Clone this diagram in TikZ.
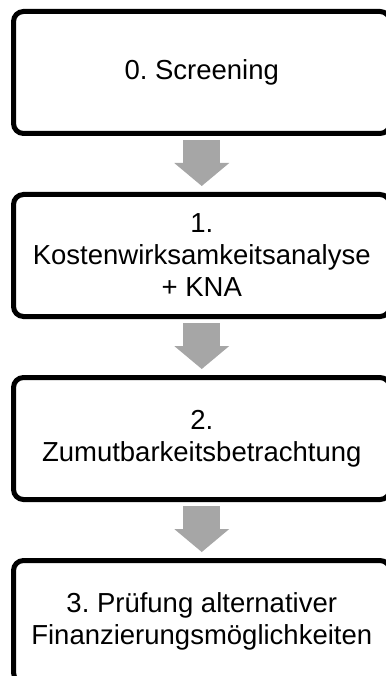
\documentclass[tikz,border=0pt]{standalone}
\usepackage{fontspec}
\setmainfont{Liberation Sans}
\usepackage{tikz}
\usetikzlibrary{positioning}
\usetikzlibrary{arrows.meta}
\definecolor{arrowgray}{RGB}{166,166,166}
\tikzset{stage/.style={draw, rounded corners=10pt, line width=5pt, minimum width=376.5pt, minimum height=122pt, align=center, font=\fontsize{27.5}{32}\selectfont\frenchspacing}}
\tikzset{flow/.style={draw=arrowgray, line width=37pt, -{Triangle[width=55pt,length=23pt,line width=0pt]}, shorten <=4pt, shorten >=6pt}}

\begin{document}
\begin{tikzpicture}[node distance=56pt]
\useasboundingbox (0,0) rectangle (385pt,-676pt);
\node[stage] (screen) at (201.75pt,-72.5pt) {0. Screening};
\node[stage, below=of screen] (kwa) {1.\\Kostenwirksamkeitsanalyse\\+ KNA};
\node[stage, below=of kwa] (zumut) {2.\\Zumutbarkeitsbetrachtung};
\node[stage, below=of zumut] (finanz) {3. Prüfung alternativer\\Finanzierungsmöglichkeiten};
% block arrows between the stages
\draw[flow] (screen) -- (kwa);
\draw[flow] (kwa) -- (zumut);
\draw[flow] (zumut) -- (finanz);
\end{tikzpicture}
\end{document}
